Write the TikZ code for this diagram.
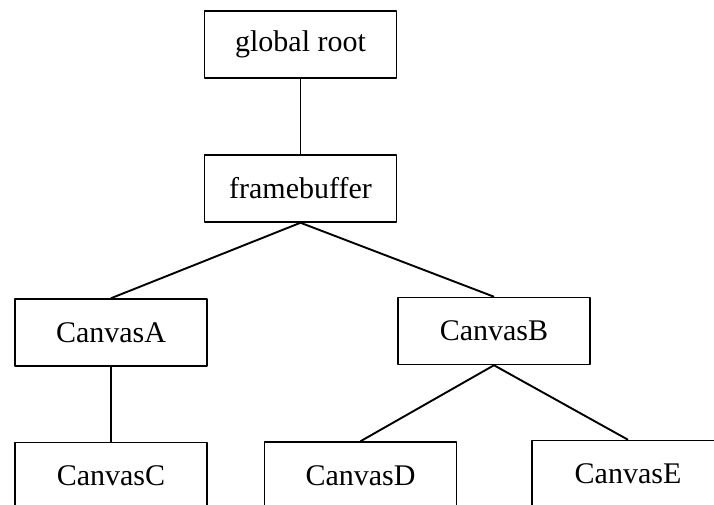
\documentclass[tikz,border=0pt]{standalone}
\usepackage{fontspec}
\setmainfont{Liberation Serif}
\usepackage{tikz}
\usetikzlibrary{arrows,positioning,shapes}

\tikzset{
  canvas/.style={draw, rectangle, line width=1.5bp, minimum width=192bp,
    minimum height=67bp, inner sep=0pt, font=\fontsize{30bp}{33bp}\selectfont},
  link/.style={line width=1.9bp}
}

\begin{document}
\begin{tikzpicture}[>=latex',line join=bevel]
  \useasboundingbox (0bp,0bp) rectangle (714bp,505bp);
  \clip (0bp,0bp) rectangle (714bp,505bp);
  \pgfsetcolor{black}
%%
  % Node: root
  \node[canvas] (root) at (300.5bp,460.5bp) {global root};
  % Node: fbuf
  \node[canvas] (fbuf) at (300.5bp,316.5bp) {framebuffer};
  % Node: canvasA
  \node[canvas] (canvasA) at (111bp,172.5bp) {CanvasA};
  % Node: canvasB
  \node[canvas] (canvasB) at (494bp,174bp) {CanvasB};
  % Node: canvasC
  \node[canvas] (canvasC) at (111bp,29bp) {CanvasC};
  % Node: canvasD
  \node[canvas] (canvasD) at (360.5bp,29.5bp) {CanvasD};
  % Node: canvasE
  \node[canvas] (canvasE) at (628bp,31bp) {CanvasE};
%%
  % Edge: root -> fbuf
  \draw [line width=1.4bp] (root.south) -- (fbuf.north);
  % Edge: fbuf -> canvasA
  \draw [link] (fbuf.south) -- (canvasA.north);
  % Edge: fbuf -> canvasB
  \draw [link] (fbuf.south) -- (canvasB.north);
  % Edge: canvasA -> canvasC
  \draw [link] (canvasA.south) -- (canvasC.north);
  % Edge: canvasB -> canvasD
  \draw [link] (canvasB.south) -- (canvasD.north);
  % Edge: canvasB -> canvasE
  \draw [link] (canvasB.south) -- (canvasE.north);
%
\end{tikzpicture}
\end{document}
